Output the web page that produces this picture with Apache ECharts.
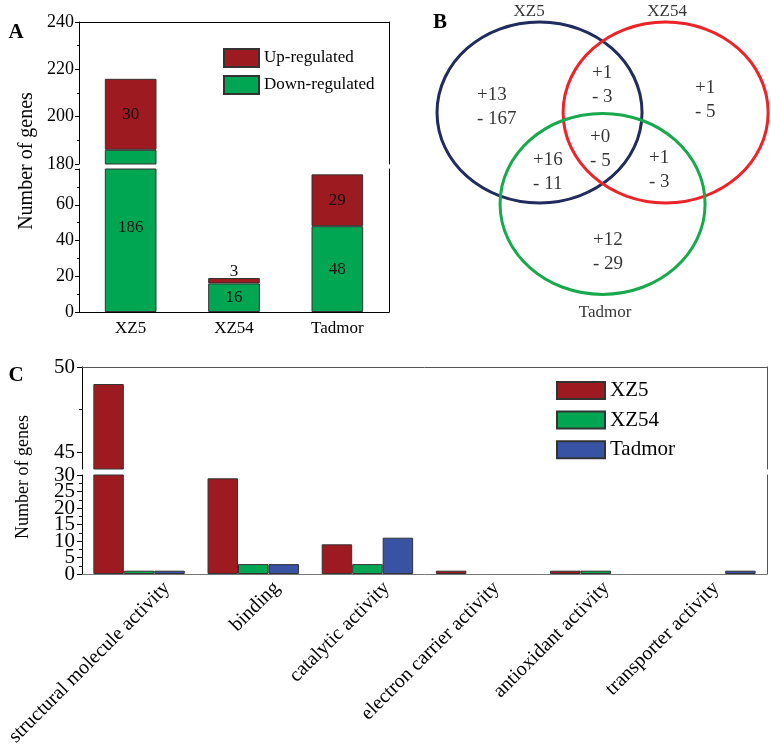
<!DOCTYPE html>
<html><head><meta charset="utf-8">
<script src="https://cdn.jsdelivr.net/npm/echarts@6/dist/echarts.min.js"></script>
<style>html,body{margin:0;padding:0;background:#fff}#c{width:771px;height:749px}</style>
</head><body><div id="c"></div>
<script>
const FONT = 'Liberation Serif';

// ---------- Panel A data ----------
const aCategories = ['XZ5', 'XZ54', 'Tadmor'];
const aDown = [186, 16, 48];
const aUp = [30, 3, 29];

// ---------- Panel B data (Venn) ----------
const vennSets = ['XZ5', 'XZ54', 'Tadmor'];
const vennUp = [13, 1, 1, 0, 16, 1, 12];
const vennDown = [167, 3, 5, 5, 11, 3, 29];

// ---------- Panel C data ----------
const cCategories = ['structural molecule activity', 'binding', 'catalytic activity',
  'electron carrier activity', 'antioxidant activity', 'transporter activity'];
const cXZ5 = [49, 29, 9, 1, 1, 0];
const cXZ54 = [1, 3, 3, 0, 1, 0];
const cTadmor = [1, 3, 11, 0, 0, 1];
const cUpperTickLabels = [45, 50];
const cLowerTickLabelsA = [0, 10, 20, 30];
const cLowerTickLabelsB = [5, 15, 25];

// ---------- layout / style ----------
const RED = '#9d1b20', GREEN = '#00a651', BLUE = '#3953a4';
const vennColors = ['#202b5e', '#ec2327', '#17a94b'];
// Venn layout in unit-circle coordinates
const vennCenters = [[0, 0], [1.23, 0], [0.615, -1.01]];
const vennLabelPos = [[-0.61, 0.066], [0.512, 0.309], [1.517, 0.138], [0.493, -0.409],
  [-0.063, -0.657], [1.068, -0.635], [0.522, -1.547]];
const vennNamePos = [[-0.102, 1.121], [1.244, 1.121], [0.639, -2.215]];

const chart = echarts.init(document.getElementById('c'), null, {renderer: 'canvas'});

const txt = (size, extra) => Object.assign({fontFamily: FONT, fontSize: size, color: '#000'}, extra || {});
const frameY = (grid, color) => ({gridIndex: grid, type: 'value', position: 'right', min: 0, max: 1,
  axisLine: {show: true, lineStyle: {color: color, width: 1}}, axisTick: {show: false},
  axisLabel: {show: false}, splitLine: {show: false}});
const border = {borderColor: '#333', borderWidth: 1};
const barData = arr => arr.map(v => v === 0 ? {value: v, itemStyle: {borderWidth: 0}} : v);

const option = {
  animation: false,
  backgroundColor: '#fff',
  textStyle: {fontFamily: FONT},
  grid: [
    {left: 79, top: 22, width: 310, height: 142},   // 0 A upper
    {left: 79, top: 169, width: 310, height: 143},  // 1 A lower
    {left: 420, top: 0, width: 351, height: 340},   // 2 B venn
    {left: 82, top: 367, width: 685, height: 102},  // 3 C upper
    {left: 82, top: 475, width: 685, height: 99},   // 4 C lower
    {left: 112, top: 475, width: 685, height: 99}   // 5 C labels
  ],
  xAxis: [
    {gridIndex: 0, type: 'category', data: aCategories, position: 'top',
      axisLine: {onZero: false, lineStyle: {color: '#000'}}, axisTick: {show: false}, axisLabel: {show: false}},
    {gridIndex: 1, type: 'category', data: aCategories, position: 'bottom',
      axisLine: {onZero: false, lineStyle: {color: '#000'}},
      axisTick: {alignWithLabel: true, length: 4, lineStyle: {color: '#000'}},
      axisLabel: txt(17, {margin: 8})},
    {gridIndex: 1, type: 'category', data: aCategories, position: 'bottom',
      axisLine: {show: false}, axisTick: {length: 2, lineStyle: {color: '#000'}}, axisLabel: {show: false}},
    {gridIndex: 2, type: 'value', min: -1.166, max: 2.258, show: false},
    {gridIndex: 3, type: 'category', data: cCategories, position: 'top',
      axisLine: {onZero: false, lineStyle: {color: '#555'}}, axisTick: {show: false}, axisLabel: {show: false}},
    {gridIndex: 4, type: 'category', data: cCategories, position: 'bottom',
      axisLine: {onZero: false, lineStyle: {color: '#777'}},
      axisTick: {alignWithLabel: true, length: 5, lineStyle: {color: '#333'}}, axisLabel: {show: false}},
    {gridIndex: 4, type: 'category', data: cCategories, position: 'bottom',
      axisLine: {show: false}, axisTick: {length: 3, lineStyle: {color: '#333'}}, axisLabel: {show: false}},
    {gridIndex: 5, type: 'category', data: cCategories, position: 'bottom',
      axisLine: {show: false}, axisTick: {show: false},
      axisLabel: txt(20, {rotate: 45, margin: 15, interval: 0})}
  ],
  yAxis: [
    {gridIndex: 0, type: 'value', min: 180, max: 240, interval: 20,
      axisLine: {show: true, lineStyle: {color: '#000'}}, axisTick: {show: true, length: 4, lineStyle: {color: '#000'}},
      minorTick: {show: true, splitNumber: 2, length: 2, lineStyle: {color: '#000'}},
      axisLabel: txt(18, {margin: 5, showMinLabel: true, showMaxLabel: true}), splitLine: {show: false}},
    frameY(0, '#000'),
    {gridIndex: 1, type: 'value', min: 0, max: 80, interval: 20,
      axisLine: {show: true, lineStyle: {color: '#000'}}, axisTick: {show: true, length: 4, lineStyle: {color: '#000'}},
      minorTick: {show: true, splitNumber: 2, length: 2, lineStyle: {color: '#000'}},
      axisLabel: txt(18, {margin: 5, showMinLabel: true, showMaxLabel: false}), splitLine: {show: false}},
    frameY(1, '#000'),
    {gridIndex: 2, type: 'value', min: -2.514, max: 1.243, show: false},
    {gridIndex: 3, type: 'value', min: 44, max: 50,
      axisLine: {show: true, lineStyle: {color: '#000'}},
      axisTick: {show: true, length: 5, customValues: cUpperTickLabels, lineStyle: {color: '#000'}},
      axisLabel: txt(21, {margin: 7, customValues: cUpperTickLabels}), splitLine: {show: false}},
    {gridIndex: 3, type: 'value', min: 44, max: 50, position: 'left',
      axisLine: {show: false}, axisTick: {show: true, length: 3, customValues: [47.5], lineStyle: {color: '#000'}},
      axisLabel: {show: false}, splitLine: {show: false}},
    frameY(3, '#555'),
    {gridIndex: 4, type: 'value', min: 0, max: 30, interval: 5,
      axisLine: {show: true, lineStyle: {color: '#000'}}, axisTick: {show: true, length: 5, lineStyle: {color: '#000'}},
      minorTick: {show: true, splitNumber: 2, length: 3, lineStyle: {color: '#000'}},
      axisLabel: txt(21, {margin: 7, customValues: cLowerTickLabelsA}), splitLine: {show: false}},
    frameY(4, '#555'),
    {gridIndex: 5, type: 'value', show: false},
    {gridIndex: 4, type: 'value', min: 0, max: 30, position: 'left',
      axisLine: {show: false}, axisTick: {show: false},
      axisLabel: txt(21, {margin: 7, customValues: cLowerTickLabelsB}), splitLine: {show: false}}
  ],
  legend: [
    {data: ['Up-regulated', 'Down-regulated'], orient: 'vertical', left: 218, top: 43,
      itemWidth: 35, itemHeight: 18, itemGap: 7, icon: 'rect', selectedMode: false,
      textStyle: txt(17)},
    {data: ['XZ5', 'XZ54', 'Tadmor'], orient: 'vertical', left: 551, top: 375,
      itemWidth: 48, itemHeight: 17, itemGap: 8.6, icon: 'rect', selectedMode: false,
      textStyle: txt(21)}
  ],
  graphic: [
    {type: 'text', x: 16, y: 33, style: {text: 'A', font: 'bold 21px "Liberation Serif"', fill: '#000', align: 'center', verticalAlign: 'middle', textAlign: 'center', textVerticalAlign: 'middle'}},
    {type: 'text', x: 440, y: 23, style: {text: 'B', font: 'bold 21px "Liberation Serif"', fill: '#000', align: 'center', verticalAlign: 'middle', textAlign: 'center', textVerticalAlign: 'middle'}},
    {type: 'text', x: 16, y: 376, style: {text: 'C', font: 'bold 21px "Liberation Serif"', fill: '#000', align: 'center', verticalAlign: 'middle', textAlign: 'center', textVerticalAlign: 'middle'}},
    {type: 'text', x: 27, y: 161, rotation: Math.PI / 2, style: {text: 'Number of genes', font: '20px "Liberation Serif"', fill: '#000', align: 'center', verticalAlign: 'middle', textAlign: 'center', textVerticalAlign: 'middle'}},
    {type: 'text', x: 23, y: 477, rotation: Math.PI / 2, style: {text: 'Number of genes', font: '18px "Liberation Serif"', fill: '#000', align: 'center', verticalAlign: 'middle', textAlign: 'center', textVerticalAlign: 'middle'}}
  ],
  series: [
    // Panel A upper segment
    {name: 'Down-regulated', type: 'bar', xAxisIndex: 0, yAxisIndex: 0, stack: 'Aup', barWidth: '50%',
      data: aDown, itemStyle: Object.assign({color: GREEN}, border), label: {show: false}},
    {name: 'Up-regulated', type: 'bar', xAxisIndex: 0, yAxisIndex: 0, stack: 'Aup', barWidth: '50%',
      data: aUp, itemStyle: Object.assign({color: RED}, border),
      label: Object.assign({show: true, position: 'inside'}, txt(17, {color: '#111'}))},
    // Panel A lower segment
    {name: 'Down-regulated', type: 'bar', xAxisIndex: 1, yAxisIndex: 2, stack: 'Alow', barWidth: '50%',
      data: aDown.map(v => ({value: v, label: v > 80 ? {offset: [0, -13]} : {}})),
      itemStyle: Object.assign({color: GREEN}, border),
      label: Object.assign({show: true, position: 'inside'}, txt(17, {color: '#111'}))},
    {name: 'Up-regulated', type: 'bar', xAxisIndex: 1, yAxisIndex: 2, stack: 'Alow', barWidth: '50%',
      data: aUp.map(v => ({value: v, label: v < 5 ? {position: 'top', distance: -2} : {}})),
      itemStyle: Object.assign({color: RED}, border),
      label: Object.assign({show: true, position: 'inside'}, txt(17, {color: '#111'}))},
    // Panel B Venn circles
    {name: 'venn-sets', type: 'custom', xAxisIndex: 3, yAxisIndex: 4, clip: false,
      data: vennCenters,
      renderItem: (params, api) => {
        const c = api.coord([api.value(0), api.value(1)]);
        const s = api.size([1, 1]);
        return {type: 'ellipse', shape: {cx: c[0], cy: c[1], rx: s[0], ry: s[1]},
          style: {fill: 'none', stroke: vennColors[params.dataIndex], lineWidth: 3}};
      }},
    {name: 'venn-counts', type: 'scatter', xAxisIndex: 3, yAxisIndex: 4, symbolSize: 0,
      data: vennLabelPos.map((p, i) => [p[0], p[1], vennUp[i], vennDown[i]]),
      label: Object.assign({show: true, position: 'inside', align: 'left', verticalAlign: 'middle', lineHeight: 24,
        formatter: p => '+' + p.value[2] + '\n- ' + p.value[3]}, txt(19))},
    {name: 'venn-names', type: 'scatter', xAxisIndex: 3, yAxisIndex: 4, symbolSize: 0,
      data: vennNamePos.map((p, i) => [p[0], p[1], vennSets[i]]),
      label: Object.assign({show: true, position: 'inside', align: 'center', verticalAlign: 'middle',
        formatter: p => p.value[2]}, txt(17))},
    // Panel C upper
    {name: 'XZ5', type: 'bar', xAxisIndex: 4, yAxisIndex: 5, data: barData(cXZ5), barWidth: '26.7%', barGap: '0%',
      itemStyle: Object.assign({color: RED}, border)},
    {name: 'XZ54', type: 'bar', xAxisIndex: 4, yAxisIndex: 5, data: barData(cXZ54), barWidth: '26.7%', barGap: '0%',
      itemStyle: Object.assign({color: GREEN}, border)},
    {name: 'Tadmor', type: 'bar', xAxisIndex: 4, yAxisIndex: 5, data: barData(cTadmor), barWidth: '26.7%', barGap: '0%',
      itemStyle: Object.assign({color: BLUE}, border)},
    // Panel C lower
    {name: 'XZ5', type: 'bar', xAxisIndex: 5, yAxisIndex: 8, data: barData(cXZ5), barWidth: '26.7%', barGap: '0%',
      itemStyle: Object.assign({color: RED}, border)},
    {name: 'XZ54', type: 'bar', xAxisIndex: 5, yAxisIndex: 8, data: barData(cXZ54), barWidth: '26.7%', barGap: '0%',
      itemStyle: Object.assign({color: GREEN}, border)},
    {name: 'Tadmor', type: 'bar', xAxisIndex: 5, yAxisIndex: 8, data: barData(cTadmor), barWidth: '26.7%', barGap: '0%',
      itemStyle: Object.assign({color: BLUE}, border)}
  ]
};
chart.setOption(option);
</script></body></html>
